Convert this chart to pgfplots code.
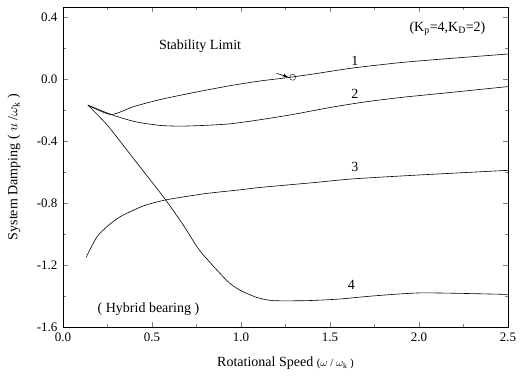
\documentclass[border=0pt]{standalone}
\usepackage{fontspec}
\setmainfont{Liberation Serif}
\usepackage{pgfplots}
\pgfplotsset{compat=1.18}
\begin{document}
\begin{tikzpicture}
\begin{axis}[name=ax,
  scale only axis, width=445pt, height=320pt,
  xmin=0, xmax=2.5, ymin=-1.6, ymax=0.463,
  xtick={0,0.5,1,1.5,2,2.5}, ytick={-1.6,-1.2,-0.8,-0.4,0,0.4},
  minor x tick num=1, minor y tick num=1,
  tick align=inside, tick pos=both,
  major tick length=5pt, minor tick length=3pt,
  /pgf/number format/assume math mode=true,
  xticklabel style={/pgf/number format/.cd, fixed, fixed zerofill, precision=1, /tikz/.cd, yshift=-2pt},
  yticklabel style={/pgf/number format/.cd, fixed, fixed zerofill, precision=1, /tikz/.cd, xshift=-2pt},
  ticklabel style={font=\fontsize{13}{15}\selectfont},
  xlabel={Rotational Speed {\fontsize{11}{13}\selectfont($\omega$ / $\omega_{\mathrm{k}}$ )}},
  ylabel={System Damping ( $u$ /$\omega_{\mathrm{k}}$ )},
  label style={font=\fontsize{14}{16}\selectfont},
  xlabel style={at={(axis description cs:0.5,-0.113)}, anchor=center},
  ylabel style={at={(axis description cs:-0.11,0.5)}, anchor=center},
]
\addplot[black, line width=0.6pt, smooth, tension=0.4, mark=none] coordinates {(0.14,-0.17) (0.27,-0.23) (0.4,-0.178) (0.56,-0.13) (0.75,-0.085) (0.94,-0.044) (1.1,-0.015) (1.25,0.006) (1.4,0.03) (1.63,0.07) (1.9,0.105) (2.16,0.13) (2.5,0.16)};
\addplot[black, line width=0.6pt, smooth, tension=0.4, mark=none] coordinates {(0.14,-0.17) (0.27,-0.23) (0.4,-0.275) (0.54,-0.30) (0.66,-0.305) (0.8,-0.30) (0.94,-0.29) (1.1,-0.265) (1.29,-0.23) (1.5,-0.185) (1.69,-0.15) (1.9,-0.12) (2.16,-0.09) (2.5,-0.05)};
\addplot[black, line width=0.6pt, smooth, tension=0.4, mark=none] coordinates {(0.13,-1.15) (0.19,-1.02) (0.25,-0.95) (0.32,-0.89) (0.45,-0.82) (0.58,-0.78) (0.8,-0.74) (1.0,-0.715) (1.11,-0.70) (1.4,-0.67) (1.63,-0.645) (2.0,-0.62) (2.5,-0.59)};
\addplot[black, line width=0.6pt, smooth, tension=0.4, mark=none] coordinates {(0.14,-0.17) (0.25,-0.30) (0.4,-0.52) (0.57,-0.77) (0.68,-0.95) (0.77,-1.11) (0.92,-1.30) (0.99,-1.36) (1.09,-1.41) (1.18,-1.43) (1.37,-1.43) (1.55,-1.42) (1.74,-1.40) (2.02,-1.38) (2.5,-1.39)};
\addplot[only marks, mark=o, mark size=3pt, black, thin] coordinates {(1.29,0.01)};
\draw[-latex, black, line width=0.6pt] (axis cs:1.20,0.035) -- (axis cs:1.265,0.012);
\node[font=\fontsize{14}{16}\selectfont] at (axis cs:0.77,0.21) {Stability Limit};
\node[font=\fontsize{14}{16}\selectfont] at (axis cs:2.16,0.324) {(K$_{\mathrm{p}}$=4,K$_{\mathrm{D}}$=2)};
\node[font=\fontsize{14}{16}\selectfont] at (axis cs:0.48,-1.486) {( Hybrid bearing )};
\node[font=\fontsize{14}{16}\selectfont] at (axis cs:1.64,0.115) {1};
\node[font=\fontsize{14}{16}\selectfont] at (axis cs:1.64,-0.10) {2};
\node[font=\fontsize{14}{16}\selectfont] at (axis cs:1.64,-0.57) {3};
\node[font=\fontsize{14}{16}\selectfont] at (axis cs:1.62,-1.33) {4};
\end{axis}
\pgfresetboundingbox
\path ([shift={(-63pt,-56pt)}]ax.south west) rectangle ([shift={(13pt,7pt)}]ax.north east);
\end{tikzpicture}
\end{document}
